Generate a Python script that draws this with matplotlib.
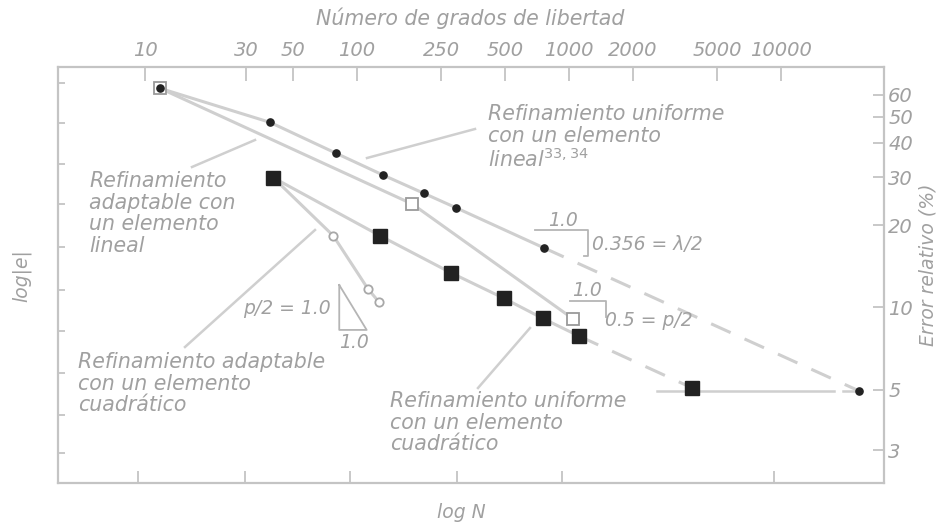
import matplotlib.pyplot as plt
from matplotlib.ticker import FixedLocator, NullLocator, NullFormatter, FixedFormatter

# uniform refinement, linear element (dots)
unif_lin_dof = [11.8, 38.9, 79.6, 133, 206, 292, 764]
unif_lin_err = [63.4, 47.6, 36.7, 30.5, 26.2, 23.2, 16.5]
unif_lin_ext_dof = [764, 23400]
unif_lin_ext_err = [16.5, 4.94]

# adaptive refinement, linear element (open squares)
adapt_lin_dof = [11.8, 182.5, 1047]
adapt_lin_err = [63.4, 23.9, 9.07]

# uniform refinement, quadratic element (filled squares)
unif_quad_dof = [40.3, 128.4, 277, 493, 751, 1112]
unif_quad_err = [29.85, 18.3, 13.4, 10.8, 9.12, 7.86]
unif_quad_ext_dof = [1112, 3790]
unif_quad_ext_err = [7.86, 5.08]

# adaptive refinement, quadratic element (open circles)
adapt_quad_dof = [40.3, 77.3, 113, 127.4]
adapt_quad_err = [29.85, 18.3, 11.65, 10.44]

# 5 % reference line
ref_dof = [2600, 17700]
ref_err = [4.94, 4.94]

top_ticks = [10, 30, 50, 100, 250, 500, 1000, 2000, 5000, 10000]
top_labels = ["10", "30", "50", "100", "250", "500", "1000", "2000", "5000", "10000"]
right_ticks = [3, 5, 10, 20, 30, 40, 50, 60]
right_labels = ["3", "5", "10", "20", "30", "40", "50", "60"]
bottom_ticks = [9.3, 29.5, 93, 295, 930, 9300]
left_ticks = [2.93, 4.04, 5.75, 8.2, 11.6, 16.6, 23.9, 33.5, 47.3, 66.5]

line_c = '#cfcfcf'
text_c = '#a0a0a0'
mark_c = '#222222'
frame_c = '#c4c4c4'

W, H = 941, 524
fig = plt.figure(figsize=(W / 100, H / 100), dpi=100)
fig.patch.set_facecolor('white')
ax = fig.add_axes([58 / W, 1 - 483 / H, (884 - 58) / W, (483 - 66.7) / H])


def P(x, y):
    return x / W, 1 - y / H


xlim = (3.89, 30600)
ylim = (2.275, 76.1)
ax.set_xscale('log')
ax.set_yscale('log')
ax.set_xlim(*xlim)
ax.set_ylim(*ylim)

# curves
ax.plot(unif_lin_dof, unif_lin_err, color=line_c, lw=2.2, zorder=2)
ax.plot(unif_lin_ext_dof, unif_lin_ext_err, color=line_c, lw=2.2, dashes=(7, 5), zorder=2)
ax.plot(adapt_lin_dof, adapt_lin_err, color=line_c, lw=2.2, zorder=2)
ax.plot(unif_quad_dof, unif_quad_err, color=line_c, lw=2.2, zorder=2)
ax.plot(unif_quad_ext_dof, unif_quad_ext_err, color=line_c, lw=2.2, dashes=(7, 5), zorder=2)
ax.plot(adapt_quad_dof, adapt_quad_err, color=line_c, lw=2.2, zorder=2)
ax.plot(ref_dof, ref_err, color=line_c, lw=1.8, zorder=2)
ax.plot([19500, 22000], [4.94, 4.94], color=line_c, lw=1.8, zorder=2)

# markers
ax.plot(adapt_lin_dof, adapt_lin_err, 's', ms=9, mfc='white', mec='#9a9a9a', mew=1.3, ls='none', zorder=3)
ax.plot(unif_lin_dof + unif_lin_ext_dof[1:], unif_lin_err + unif_lin_ext_err[1:], 'o', ms=5.2,
        color=mark_c, ls='none', zorder=4)
ax.plot(adapt_quad_dof[1:], adapt_quad_err[1:], 'o', ms=6, mfc='white', mec='#a8a8a8', mew=1.3,
        ls='none', zorder=3)
ax.plot(unif_quad_dof + unif_quad_ext_dof[1:], unif_quad_err + unif_quad_ext_err[1:], 's', ms=9.5,
        color=mark_c, ls='none', zorder=4)

# slope triangles
ax.plot([692, 1233, 1233, 1180], [19.2, 19.2, 15.4, 15.4], color='#b5b5b5', lw=1.3, zorder=2)
ax.plot([1012, 1496, 1496], [10.58, 10.58, 9.25], color='#b5b5b5', lw=1.3, zorder=2)
ax.plot([82.5, 82.5, 111.1, 82.5], [12.08, 8.27, 8.27, 12.08], color='#b5b5b5', lw=1.3, zorder=2)

# bottom / left ticks (no labels)
ax.xaxis.set_major_locator(FixedLocator(bottom_ticks))
ax.xaxis.set_minor_locator(NullLocator())
ax.xaxis.set_major_formatter(NullFormatter())
ax.yaxis.set_major_locator(FixedLocator(left_ticks))
ax.yaxis.set_minor_locator(NullLocator())
ax.yaxis.set_major_formatter(NullFormatter())
ax.tick_params(axis='x', direction='in', length=9, width=1.3, color=frame_c, top=False)
ax.tick_params(axis='y', direction='in', length=5, width=1.3, color=frame_c, right=False)
for s in ax.spines.values():
    s.set_color(frame_c)
    s.set_linewidth(1.6)

# top axis: degrees of freedom
axt = ax.twiny()
axt.set_xscale('log')
axt.set_xlim(*xlim)
axt.xaxis.set_major_locator(FixedLocator(top_ticks))
axt.xaxis.set_minor_locator(NullLocator())
axt.xaxis.set_major_formatter(FixedFormatter(top_labels))
axt.tick_params(axis='x', direction='in', length=10, width=1.3, color=frame_c, pad=5,
                labelsize=14, labelcolor=text_c)
for lab in axt.get_xticklabels():
    lab.set_style('italic')
for s in axt.spines.values():
    s.set_visible(False)

# right axis: relative error
axr = ax.twinx()
axr.set_yscale('log')
axr.set_ylim(*ylim)
axr.yaxis.set_major_locator(FixedLocator(right_ticks))
axr.yaxis.set_minor_locator(NullLocator())
axr.yaxis.set_major_formatter(FixedFormatter(right_labels))
axr.tick_params(axis='y', direction='in', length=8, width=1.3, color=frame_c, pad=3,
                labelsize=14, labelcolor=text_c)
for lab in axr.get_yticklabels():
    lab.set_style('italic')
for s in axr.spines.values():
    s.set_visible(False)

tkw = dict(color=text_c, style='italic', fontsize=13.5)
big = dict(color=text_c, style='italic', fontsize=14.8, linespacing=1.1)
fig.text(*P(470, 18), "Número de grados de libertad", ha='center', va='center', **big)
fig.text(*P(461, 513), "log N", ha='center', va='center', **tkw)
fig.text(*P(22, 276), "log|e|", ha='center', va='center', rotation=90, **tkw)
fig.text(*P(928, 265), "Error relativo (%)", ha='center', va='center', rotation=90, **tkw)

fig.text(*P(488, 104), "Refinamiento uniforme\ncon un elemento\nlineal$^{33,34}$",
         ha='left', va='top', **big)
fig.text(*P(89, 171), "Refinamiento\nadaptable con\nun elemento\nlineal",
         ha='left', va='top', **big)
fig.text(*P(78, 352), "Refinamiento adaptable\ncon un elemento\ncuadrático",
         ha='left', va='top', **big)
fig.text(*P(390, 391), "Refinamiento uniforme\ncon un elemento\ncuadrático",
         ha='left', va='top', **big)

fig.text(*P(563, 221), "1.0", ha='center', va='center', **tkw)
fig.text(*P(592, 244), "0.356 = λ/2", ha='left', va='center', **tkw)
fig.text(*P(587, 291), "1.0", ha='center', va='center', **tkw)
fig.text(*P(605, 320), "0.5 = p/2", ha='left', va='center', **tkw)
fig.text(*P(331, 309), "p/2 = 1.0", ha='right', va='center', **tkw)
fig.text(*P(354, 343), "1.0", ha='center', va='center', **tkw)

# leader lines
leaders = [((475, 129), (367, 158)), ((255, 140), (192, 167)),
           ((315, 230), (185, 347)), ((530, 328), (478, 388))]
for (x0, y0), (x1, y1) in leaders:
    a, b = P(x0, y0)
    c, d = P(x1, y1)
    fig.add_artist(plt.Line2D([a, c], [b, d], color=line_c, lw=1.8, transform=fig.transFigure))

fig.savefig('out.png', dpi=100, facecolor='white')
